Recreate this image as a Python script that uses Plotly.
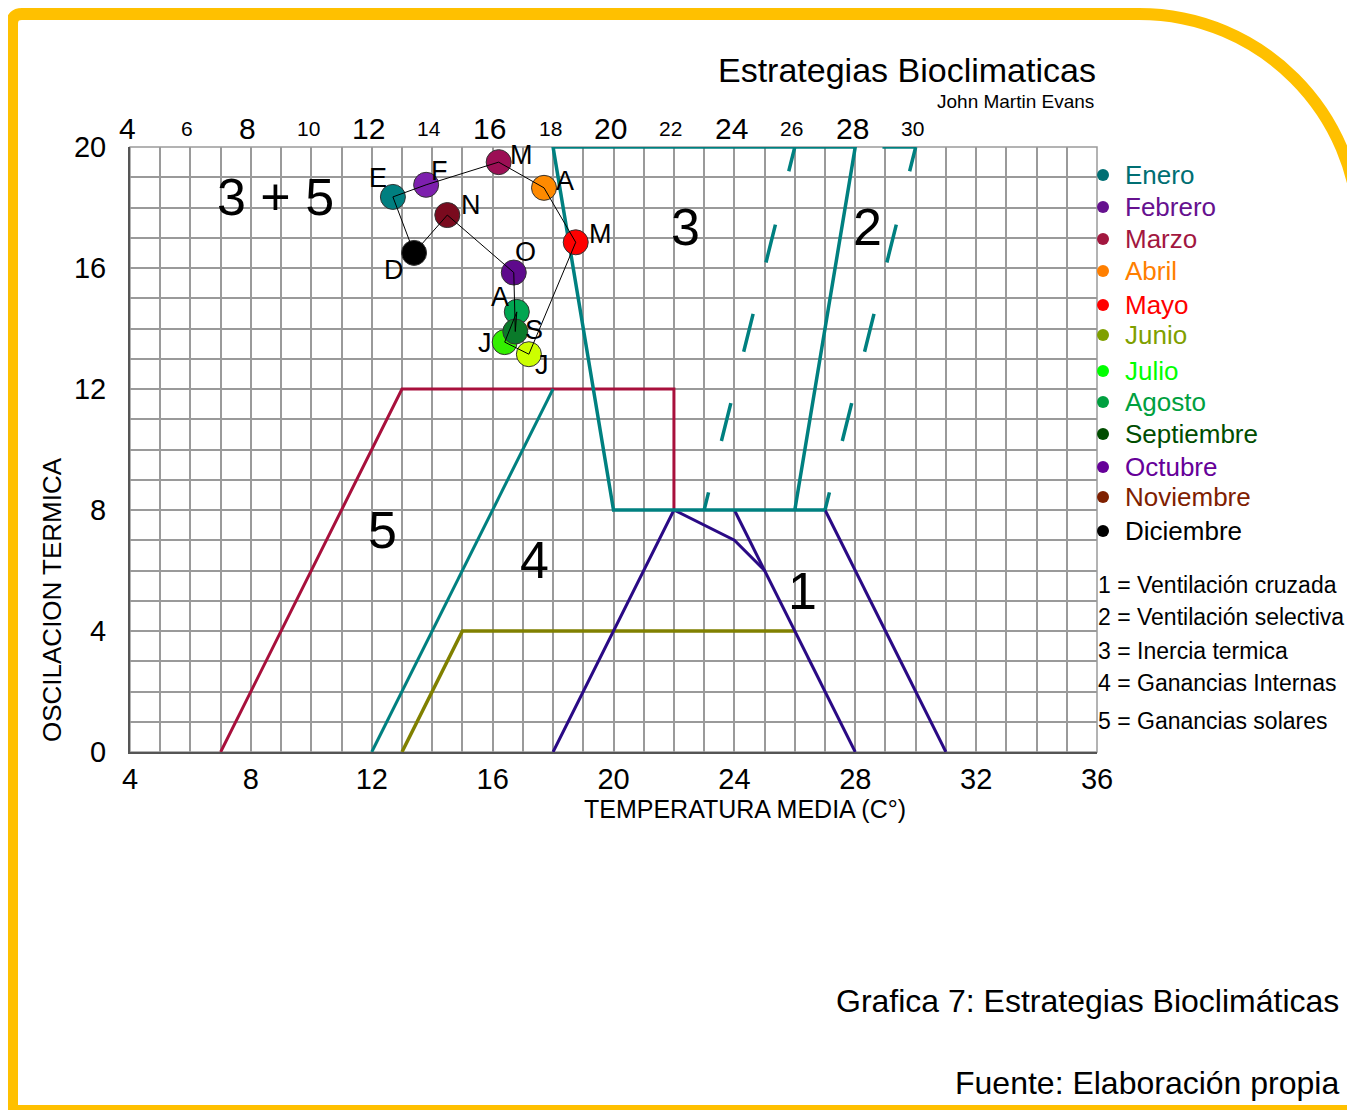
import plotly.graph_objects as go

FONT = "Liberation Sans, Arial, sans-serif"

# --- month points (temperatura media, oscilacion termica) ---
meses = ["Enero", "Febrero", "Marzo", "Abril", "Mayo", "Junio", "Julio",
         "Agosto", "Septiembre", "Octubre", "Noviembre", "Diciembre"]
letras = ["E", "F", "M", "A", "M", "J", "J", "A", "S", "O", "N", "D"]
temp = [12.7, 13.8, 16.2, 17.7, 18.75, 17.2, 16.4, 16.8, 16.75, 16.7, 14.5, 13.4]
osc = [18.35, 18.75, 19.5, 18.65, 16.85, 13.15, 13.55, 14.55, 13.9, 15.85, 17.75, 16.5]
color_punto = ["#007f80", "#7d1fae", "#9c0f55", "#ff8a00", "#ff0000", "#ccff00",
               "#33ee00", "#00a651", "#0a7a2a", "#5e0a8c", "#7a0a1e", "#000000"]
color_leyenda = ["#006f73", "#66118f", "#a2173f", "#ff7f00", "#ff0000", "#7fa000",
                 "#00ff00", "#00a040", "#004d00", "#660099", "#7f2000", "#000000"]
# label offsets in pixels (right, up)
letra_dx = [-15, 13, 23, 21, 25, 13, -20, -17, 19, 12, 24, -20]
letra_dy = [19, 14, 7, 7, 8, -11, -1, 15, 2, 21, 10, -17]

# --- zonas de estrategias ---
z1_x = [18, 22, 24, 25, None, 24, 28, None, 27, 31]
z1_y = [0, 8, 7, 6, None, 8, 0, None, 8, 0]
z2_x = [30, 27, None, 26, 23]
z2_y = [20, 8, None, 20, 8]
z2_top_x = [28.9, 30]
z2_top_y = [20, 20]
z3_x = [26, 28, 18, 20, 27]
z3_y = [8, 20, 20, 8, 8]
z4_x = [12, 18]
z4_y = [0, 12]
z5_x = [7, 13, 22, 22]
z5_y = [0, 12, 12, 8]
olivo_x = [13, 15, 26]
olivo_y = [0, 4, 4]

zona_txt = ["3 + 5", "3", "2", "5", "4", "1"]
zona_tx = [8.8, 22.37, 28.39, 12.37, 17.4, 26.24]
zona_ty = [18.35, 17.36, 17.36, 7.34, 6.35, 5.32]

top_ticks = [4, 6, 8, 10, 12, 14, 16, 18, 20, 22, 24, 26, 28, 30]

estrategias = ["1 = Ventilación cruzada", "2 = Ventilación selectiva",
               "3 = Inercia termica", "4 = Ganancias Internas",
               "5 = Ganancias solares"]

# page layout (the html body adds an 8px margin)
OFF = 8
W, H = 1355 - OFF, 1110 - OFF
L, R, T, B = 130, 1097, 147, 752


def px(x):
    return (x - L) / (R - L)


def py(y):
    return (B - y) / (B - T)


fig = go.Figure()

teal = "#008080"
fig.add_trace(go.Scatter(x=z5_x, y=z5_y, mode="lines", line=dict(color="#a8103c", width=3)))
fig.add_trace(go.Scatter(x=z4_x, y=z4_y, mode="lines", line=dict(color=teal, width=3)))
fig.add_trace(go.Scatter(x=olivo_x, y=olivo_y, mode="lines", line=dict(color="#808000", width=3.5)))
fig.add_trace(go.Scatter(x=z1_x, y=z1_y, mode="lines", line=dict(color="#2a0a85", width=3)))
fig.add_trace(go.Scatter(x=z3_x, y=z3_y, mode="lines", line=dict(color=teal, width=3.5)))
fig.add_trace(go.Scatter(x=z2_x, y=z2_y, mode="lines",
                         line=dict(color=teal, width=3.5,
                                   dash="25px,55px,39px,53px,39px,53px,39px,53px,30px")))
fig.add_trace(go.Scatter(x=z2_top_x, y=z2_top_y, mode="lines", line=dict(color=teal, width=3.5)))

# month markers, then connecting line on top
fig.add_trace(go.Scatter(x=temp, y=osc, mode="markers",
                         marker=dict(size=25, color=color_punto,
                                     line=dict(color="#333333", width=1))))
fig.add_trace(go.Scatter(x=temp + temp[:1], y=osc + osc[:1], mode="lines",
                         line=dict(color="black", width=1)))

for t, xx, yy, dx, dy in zip(letras, temp, osc, letra_dx, letra_dy):
    fig.add_annotation(x=xx, y=yy, text=t, xshift=dx, yshift=dy, showarrow=False,
                       xanchor="center", yanchor="middle",
                       font=dict(size=27, color="black", family=FONT))

for t, xx, yy in zip(zona_txt, zona_tx, zona_ty):
    fig.add_annotation(x=xx, y=yy, text=t, showarrow=False, xanchor="center", yanchor="middle",
                       font=dict(size=52, color="black", family=FONT))

for v in top_ticks:
    big = v % 4 == 0
    fig.add_annotation(x=v, xshift=-3, y=py(128), yref="paper", text=str(v), showarrow=False,
                       xanchor="center", yanchor="middle",
                       font=dict(size=30 if big else 21, color="black", family=FONT))

# month legend
ley_y = [175, 207, 239, 271, 305, 335, 371, 402, 434, 467, 497, 531]
for m, c, yy in zip(meses, color_leyenda, ley_y):
    fig.add_shape(type="circle", xref="paper", yref="paper",
                  xsizemode="pixel", ysizemode="pixel",
                  xanchor=px(1103), yanchor=py(yy), x0=-6, x1=6, y0=-6, y1=6,
                  fillcolor=c, line=dict(width=0))
    fig.add_annotation(x=px(1123), y=py(yy), xref="paper", yref="paper", text=m,
                       xanchor="left", yanchor="middle", showarrow=False,
                       font=dict(size=26, color=c, family=FONT))

est_y = [585, 617, 651, 683, 721]
for e, yy in zip(estrategias, est_y):
    fig.add_annotation(x=px(1096), y=py(yy), xref="paper", yref="paper", text=e,
                       xanchor="left", yanchor="middle", showarrow=False,
                       font=dict(size=23, color="black", family=FONT))

# titles
def nota(x, y, text, size, xanchor="center", angle=0):
    fig.add_annotation(x=px(x), y=py(y), xref="paper", yref="paper", text=text,
                       xanchor=xanchor, yanchor="middle", textangle=angle, showarrow=False,
                       font=dict(size=size, color="black", family=FONT))


nota(1098, 70, "Estrategias Bioclimaticas", 34, "right")
nota(1096, 101, "John Martin Evans", 19, "right")
nota(745, 809, "TEMPERATURA MEDIA (C°)", 25)
nota(52, 600, "OSCILACION TERMICA", 26, angle=-90)
nota(1341, 1001, "Grafica 7: Estrategias Bioclimáticas", 32, "right")
nota(1341, 1083, "Fuente: Elaboración propia", 32, "right")

# yellow page frame with rounded top-right corner (page pixels)
k = 0.5523 * 220
pts = [("M", [(12, 1118)]), ("L", [(12, 24)]), ("Q", [(12, 14), (22, 14)]),
       ("L", [(1139, 14)]), ("C", [(1139 + k, 14), (1359, 234 - k), (1359, 234)]),
       ("L", [(1359, 1111)]), ("L", [(12, 1111)])]
path = ""
for cmd, ps in pts:
    path += cmd + " " + " ".join(f"{px(a):.5f},{py(b):.5f}" for a, b in ps) + " "
path += "Z"
fig.add_shape(type="path", path=path, xref="paper", yref="paper",
              line=dict(color="#ffc000", width=12), layer="above")

grid = "#9a9a9a"
fig.update_layout(
    width=W, height=H, showlegend=False,
    margin=dict(l=L - OFF, r=W - (R - OFF), t=T - OFF, b=H - (B - OFF)),
    paper_bgcolor="white", plot_bgcolor="white",
    font=dict(family=FONT, color="black"),
    xaxis=dict(range=[4, 36], tick0=4, dtick=4, showgrid=True, gridcolor=grid, gridwidth=1.5,
               minor=dict(dtick=1, showgrid=True, gridcolor=grid, gridwidth=1.5),
               showline=True, linecolor="#555555", linewidth=2, mirror=False,
               zeroline=False, ticks="", ticklabelstandoff=0,
               tickfont=dict(size=29, color="black")),
    yaxis=dict(range=[0, 20], tick0=0, dtick=4, showgrid=True, gridcolor=grid, gridwidth=1.5,
               minor=dict(dtick=1, showgrid=True, gridcolor=grid, gridwidth=1.5),
               showline=True, linecolor="#555555", linewidth=2, mirror=False,
               zeroline=False, ticks="", ticklabelstandoff=16,
               tickfont=dict(size=29, color="black")),
)
fig.add_shape(type="rect", x0=0, x1=1, y0=0, y1=1, xref="paper", yref="paper",
              line=dict(color=grid, width=1.5), layer="below")

fig.write_html("out.html")
